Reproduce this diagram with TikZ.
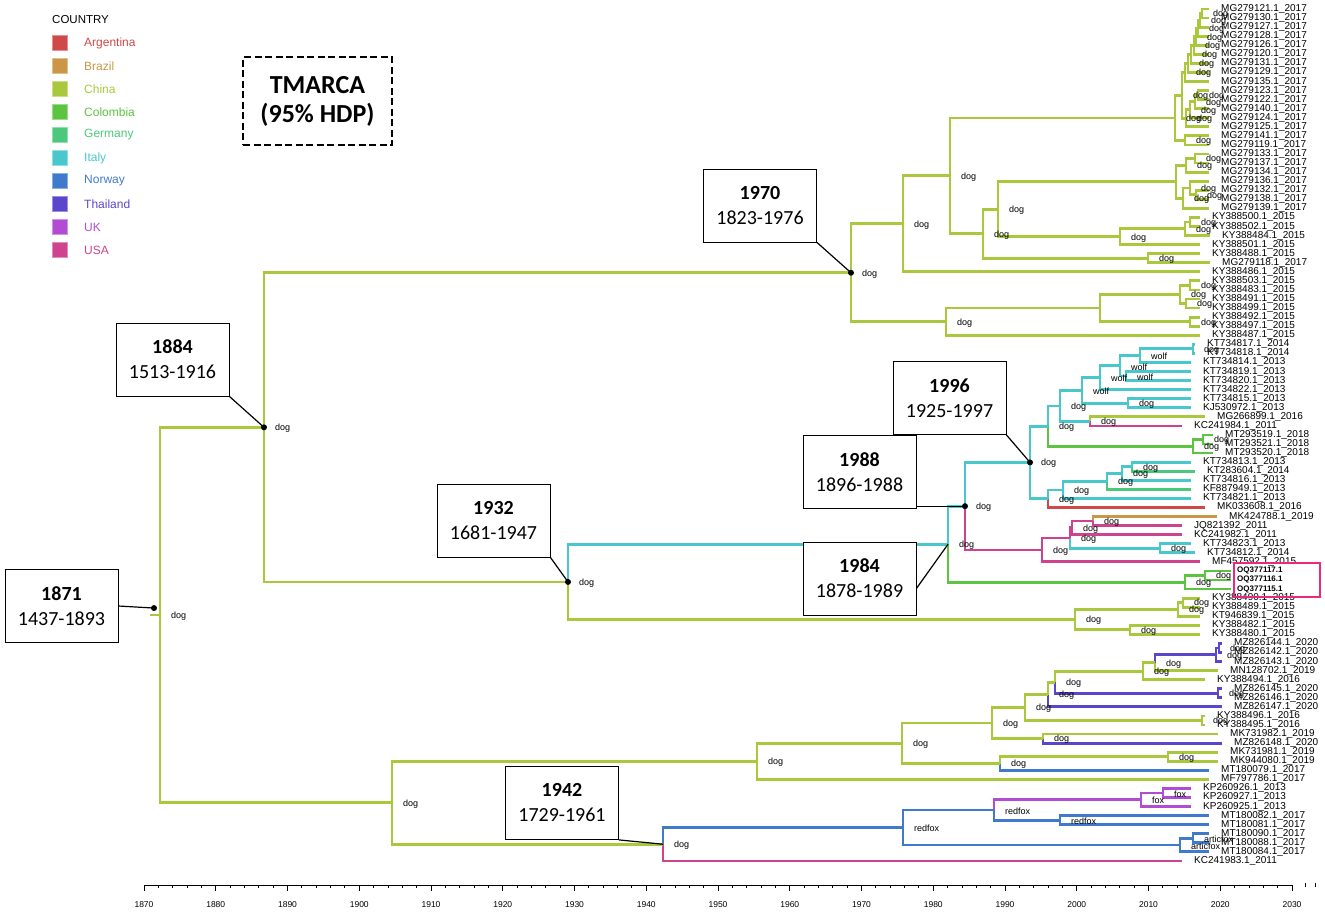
\documentclass[tikz,border=0pt]{standalone}
\usepackage{fontspec}
\setmainfont{Liberation Sans}
\newfontfamily\boxfont{Carlito}
\usetikzlibrary{calc}

% country colours
\definecolor{argentina}{RGB}{208,72,72}
\definecolor{brazil}{RGB}{204,150,72}
\definecolor{china}{RGB}{170,200,60}
\definecolor{colombia}{RGB}{92,196,64}
\definecolor{germany}{RGB}{76,200,124}
\definecolor{italy}{RGB}{72,200,204}
\definecolor{norway}{RGB}{64,122,204}
\definecolor{thailand}{RGB}{90,70,204}
\definecolor{uk}{RGB}{178,76,210}
\definecolor{usa}{RGB}{206,66,142}
\definecolor{oqpink}{RGB}{236,40,124}

\tikzset{%
	% Specifications for style of branches and labels:
	branch/.style = {line width=2.8pt, line join=miter},
	tiplabel/.style = {anchor=west, inner sep=0pt, xshift=12pt,
		font=\fontsize{10}{10}\selectfont},
	oqlabel/.style = {anchor=west, inner sep=0pt, xshift=6pt,
		font=\bfseries\fontsize{8}{8}\selectfont},
	hostlabel/.style = {anchor=west, inner sep=0pt, xshift=11pt, yshift=-1pt,
		font=\fontsize{9}{9}\selectfont},
	agebox/.style = {rectangle, draw=black, line width=0.8pt, fill=white,
		minimum width=113pt, minimum height=73pt, align=center,
		font=\boxfont\fontsize{20}{25}\selectfont},
	tmrcabox/.style = {rectangle, draw=black, line width=2.2pt,
		dash pattern=on 7pt off 3.5pt, minimum width=149pt, minimum height=88pt,
		align=center, font=\boxfont\bfseries\fontsize{26}{29}\selectfont},
	pointer/.style = {draw=black, line width=1.2pt},
	dot/.style = {fill=black},
	oqframe/.style = {rectangle, draw=oqpink, line width=1.6pt,
		minimum width=86pt, minimum height=34pt},
	legsq/.style = {rectangle, minimum size=15pt, inner sep=0pt},
	legtext/.style = {anchor=west, inner sep=0pt, font=\fontsize{12}{12}\selectfont},
	axisline/.style = {draw=black, line width=0.9pt},
	axislabel/.style = {font=\fontsize{8.5}{8.5}\selectfont},
}

% tip: [style]{index}{x of tip}{name}
\newcommand{\tip}[4][tiplabel]{%
	\coordinate (t#2) at (#3,{9+(#2-1)*9.063});
	\node[#1] (l#2) at (t#2) {#4};}
% clade: {name}{x}{child 1}{colour 1}{child 2}{colour 2}{host}
\newcommand{\clade}[7]{%
	\path let \p1 = ($(#3)!0.5!(#5)$) in coordinate (#1) at (#2pt,\y1);
	\draw[branch,#4] (#1) |- (#3);
	\draw[branch,#6] (#1) |- (#5);
	\node[hostlabel] (#1h) at (#1) {#7};}
% legend entry: {name}{y}{colour}{text}
\newcommand{\legentry}[4]{%
	\node[legsq, fill=#3, draw=#3!60] (sq#1) at (60,#2) {};
	\node[legtext, text=#3] (lg#1) at (84,#2) {#4};}

\begin{document}
\begin{tikzpicture}[x=1pt, y=-1pt]
	\useasboundingbox (0,0) rectangle (1325,916);
	
	% Legend
	\node[legtext, font=\fontsize{11.5}{11.5}\selectfont] (legtitle) at (52,20) {COUNTRY};
	\legentry{arg}{43}{argentina}{Argentina}
	\legentry{bra}{66}{brazil}{Brazil}
	\legentry{chi}{89}{china}{China}
	\legentry{col}{112}{colombia}{Colombia}
	\legentry{ger}{135}{germany}{Germany}
	\legentry{ita}{158}{italy}{Italy}
	\legentry{nor}{181}{norway}{Norway}
	\legentry{tha}{204}{thailand}{Thailand}
	\legentry{uk}{227}{uk}{UK}
	\legentry{usa}{250}{usa}{USA}
	
	\node[tmrcabox] (tmrca) at (317.5,101) {TMARCA\\(95\% HDP)};
	
	% Tips
	\tip{1}{1209}{MG279121.1\_2017}
	\tip{2}{1209}{MG279130.1\_2017}
	\tip{3}{1209}{MG279127.1\_2017}
	\tip{4}{1209}{MG279128.1\_2017}
	\tip{5}{1209}{MG279126.1\_2017}
	\tip{6}{1209}{MG279120.1\_2017}
	\tip{7}{1209}{MG279131.1\_2017}
	\tip{8}{1209}{MG279129.1\_2017}
	\tip{9}{1209}{MG279135.1\_2017}
	\tip{10}{1209}{MG279123.1\_2017}
	\tip{11}{1209}{MG279122.1\_2017}
	\tip{12}{1209}{MG279140.1\_2017}
	\tip{13}{1209}{MG279124.1\_2017}
	\tip{14}{1209}{MG279125.1\_2017}
	\tip{15}{1209}{MG279141.1\_2017}
	\tip{16}{1209}{MG279119.1\_2017}
	\tip{17}{1209}{MG279133.1\_2017}
	\tip{18}{1209}{MG279137.1\_2017}
	\tip{19}{1209}{MG279134.1\_2017}
	\tip{20}{1209}{MG279136.1\_2017}
	\tip{21}{1209}{MG279132.1\_2017}
	\tip{22}{1209}{MG279138.1\_2017}
	\tip{23}{1209}{MG279139.1\_2017}
	\tip{24}{1200}{KY388500.1\_2015}
	\tip{25}{1200}{KY388502.1\_2015}
	\tip{26}{1210}{KY388484.1\_2015}
	\tip{27}{1200}{KY388501.1\_2015}
	\tip{28}{1200}{KY388488.1\_2015}
	\tip{29}{1210}{MG279118.1\_2017}
	\tip{30}{1200}{KY388486.1\_2015}
	\tip{31}{1200}{KY388503.1\_2015}
	\tip{32}{1200}{KY388483.1\_2015}
	\tip{33}{1200}{KY388491.1\_2015}
	\tip{34}{1200}{KY388499.1\_2015}
	\tip{35}{1200}{KY388492.1\_2015}
	\tip{36}{1200}{KY388497.1\_2015}
	\tip{37}{1200}{KY388487.1\_2015}
	\tip{38}{1195}{KT734817.1\_2014}
	\tip{39}{1195}{KT734818.1\_2014}
	\tip{40}{1191}{KT734814.1\_2013}
	\tip{41}{1191}{KT734819.1\_2013}
	\tip{42}{1191}{KT734820.1\_2013}
	\tip{43}{1191}{KT734822.1\_2013}
	\tip{44}{1191}{KT734815.1\_2013}
	\tip{45}{1191}{KJ530972.1\_2013}
	\tip{46}{1205}{MG266899.1\_2016}
	\tip{47}{1182}{KC241984.1\_2011}
	\tip{48}{1213}{MT293519.1\_2018}
	\tip{49}{1213}{MT293521.1\_2018}
	\tip{50}{1213}{MT293520.1\_2018}
	\tip{51}{1191}{KT734813.1\_2013}
	\tip{52}{1195}{KT283604.1\_2014}
	\tip{53}{1191}{KT734816.1\_2013}
	\tip{54}{1191}{KF887949.1\_2013}
	\tip{55}{1191}{KT734821.1\_2013}
	\tip{56}{1205}{MK033608.1\_2016}
	\tip{57}{1217}{MK424788.1\_2019}
	\tip{58}{1182}{JQ821392\_2011}
	\tip{59}{1182}{KC241982.1\_2011}
	\tip{60}{1191}{KT734823.1\_2013}
	\tip{61}{1195}{KT734812.1\_2014}
	\tip{62}{1200}{MF457592.1\_2015}
	\tip[oqlabel]{63}{1231}{OQ377117.1}
	\tip[oqlabel]{64}{1231}{OQ377116.1}
	\tip[oqlabel]{65}{1231}{OQ377115.1}
	\tip{66}{1200}{KY388490.1\_2015}
	\tip{67}{1200}{KY388489.1\_2015}
	\tip{68}{1200}{KT946839.1\_2015}
	\tip{69}{1200}{KY388482.1\_2015}
	\tip{70}{1200}{KY388480.1\_2015}
	\tip{71}{1222}{MZ826144.1\_2020}
	\tip{72}{1222}{MZ826142.1\_2020}
	\tip{73}{1222}{MZ826143.1\_2020}
	\tip{74}{1218}{MN128702.1\_2019}
	\tip{75}{1205}{KY388494.1\_2016}
	\tip{76}{1222}{MZ826145.1\_2020}
	\tip{77}{1222}{MZ826146.1\_2020}
	\tip{78}{1222}{MZ826147.1\_2020}
	\tip{79}{1205}{KY388496.1\_2016}
	\tip{80}{1205}{KY388495.1\_2016}
	\tip{81}{1218}{MK731982.1\_2019}
	\tip{82}{1222}{MZ826148.1\_2020}
	\tip{83}{1218}{MK731981.1\_2019}
	\tip{84}{1218}{MK944080.1\_2019}
	\tip{85}{1209}{MT180079.1\_2017}
	\tip{86}{1209}{MF797786.1\_2017}
	\tip{87}{1191}{KP260926.1\_2013}
	\tip{88}{1191}{KP260927.1\_2013}
	\tip{89}{1191}{KP260925.1\_2013}
	\tip{90}{1209}{MT180082.1\_2017}
	\tip{91}{1209}{MT180081.1\_2017}
	\tip{92}{1209}{MT180090.1\_2017}
	\tip{93}{1209}{MT180088.1\_2017}
	\tip{94}{1209}{MT180084.1\_2017}
	\tip{95}{1182}{KC241983.1\_2011}
	
	\node[oqframe] (oqbox) at (1277,580) {};
	
	% China clade (MG279...)
	\clade{c1}{1202}{t1}{china}{t2}{china}{dog}
	\clade{c2}{1200}{c1}{china}{t3}{china}{dog}
	\clade{c3}{1198}{c2}{china}{t4}{china}{dog}
	\clade{c4}{1196}{c3}{china}{t5}{china}{dog}
	\clade{c5}{1194}{c4}{china}{t6}{china}{dog}
	\clade{c6}{1191}{c5}{china}{t7}{china}{dog}
	\clade{c7}{1188}{c6}{china}{t8}{china}{dog}
	\clade{c8}{1185}{c7}{china}{t9}{china}{dog}
	\clade{s1}{1198}{t10}{china}{t11}{china}{dog}
	\clade{s2}{1195}{s1}{china}{t12}{china}{dog}
	\clade{s3}{1190}{s2}{china}{t13}{china}{dog}
	\clade{s4}{1186}{s3}{china}{t14}{china}{dog}
	\clade{aone}{1182}{c8}{china}{s4}{china}{dog}
	\clade{atwo}{1185}{t15}{china}{t16}{china}{dog}
	\clade{aroot}{1175}{aone}{china}{atwo}{china}{dog}
	
	\clade{b11}{1195}{t17}{china}{t18}{china}{dog}
	\clade{b1}{1186}{b11}{china}{t19}{china}{dog}
	\clade{b21}{1196}{t21}{china}{t22}{china}{dog}
	\clade{b22}{1190}{t20}{china}{b21}{china}{dog}
	\clade{b2}{1183}{b22}{china}{t23}{china}{dog}
	\clade{broot}{1176}{b1}{china}{b2}{china}{}
	
	\clade{k1}{1190}{t24}{china}{t25}{china}{dog}
	\clade{k2}{1185}{k1}{china}{t26}{china}{dog}
	\clade{n1120}{1120}{k2}{china}{t27}{china}{dog}
	\clade{n1148}{1148}{t28}{china}{t29}{china}{dog}
	\clade{n998}{998}{broot}{china}{n1120}{china}{dog}
	\clade{n983}{983}{n998}{china}{n1148}{china}{dog}
	\clade{n950}{950}{aroot}{china}{n983}{china}{dog}
	\clade{n903}{903}{n950}{china}{t30}{china}{dog}
	
	\clade{r1}{1190}{t31}{china}{t32}{china}{dog}
	\clade{r2}{1186}{t33}{china}{t34}{china}{dog}
	\clade{r3}{1180}{r1}{china}{r2}{china}{dog}
	\clade{r4}{1190}{t35}{china}{t36}{china}{dog}
	\clade{n1100}{1100}{r3}{china}{r4}{china}{}
	\clade{n946}{946}{n1100}{china}{t37}{china}{dog}
	\clade{n1970}{851}{n903}{china}{n946}{china}{dog}
	
	% Italy clade
	\clade{w1}{1193}{t38}{italy}{t39}{italy}{dog}
	\clade{w2}{1140}{w1}{italy}{t40}{italy}{wolf}
	\clade{w23}{1126}{t41}{italy}{t42}{italy}{wolf}
	\clade{w3}{1120}{w2}{italy}{w23}{italy}{wolf}
	\clade{w4}{1100}{w3}{italy}{t43}{italy}{wolf}
	\clade{v1}{1128}{t44}{italy}{t45}{italy}{dog}
	\clade{n1080}{1082}{w4}{italy}{v1}{italy}{wolf}
	\clade{n1090}{1090}{t46}{china}{t47}{usa}{dog}
	\clade{n1060}{1060}{n1080}{italy}{n1090}{italy}{dog}
	\clade{mt1}{1203}{t48}{colombia}{t49}{colombia}{dog}
	\clade{mt2}{1193}{mt1}{colombia}{t50}{colombia}{dog}
	\clade{n1048u}{1048}{n1060}{italy}{mt2}{colombia}{dog}
	\clade{q1}{1132}{t51}{italy}{t52}{germany}{dog}
	\clade{q2}{1122}{q1}{italy}{t53}{italy}{dog}
	\clade{q3}{1107}{q2}{italy}{t54}{germany}{dog}
	\clade{q4}{1063}{q3}{italy}{t55}{italy}{dog}
	\clade{q5}{1048}{q4}{italy}{t56}{argentina}{dog}
	\clade{n1996}{1030}{n1048u}{italy}{q5}{italy}{dog}
	\clade{m1}{1093}{t57}{brazil}{t58}{usa}{dog}
	\clade{m2}{1072}{m1}{usa}{t59}{usa}{dog}
	\clade{mc}{1160}{t60}{italy}{t61}{italy}{dog}
	\clade{m3}{1070}{m2}{usa}{mc}{italy}{dog}
	\clade{m4}{1042}{m3}{usa}{t62}{usa}{dog}
	\clade{n1988}{965}{n1996}{italy}{m4}{usa}{dog}
	\clade{oq1}{1205}{t63}{colombia}{t64}{colombia}{dog}
	\clade{oq2}{1185}{oq1}{colombia}{t65}{colombia}{dog}
	\clade{n1984}{948}{n1988}{italy}{oq2}{colombia}{dog}
	\clade{g1}{1183}{t66}{china}{t67}{china}{dog}
	\clade{g2}{1178}{g1}{china}{t68}{china}{dog}
	\clade{g3}{1130}{t69}{china}{t70}{china}{dog}
	\clade{g4}{1075}{g2}{china}{g3}{china}{dog}
	\clade{n1932}{568}{n1984}{italy}{g4}{china}{dog}
	\clade{n1884}{264}{n1970}{china}{n1932}{china}{dog}
	
	% Lower clade
	\clade{u1}{1219}{t71}{thailand}{t72}{thailand}{dog}
	\clade{u2}{1216}{u1}{thailand}{t73}{thailand}{dog}
	\clade{n1155}{1155}{u2}{thailand}{t74}{china}{dog}
	\clade{n1143}{1143}{n1155}{china}{t75}{china}{dog}
	\clade{u3}{1218}{t76}{thailand}{t77}{thailand}{dog}
	\clade{n1055}{1055}{n1143}{china}{u3}{thailand}{dog}
	\clade{n1048l}{1048}{n1055}{china}{t78}{thailand}{dog}
	\clade{h1}{1202}{t79}{china}{t80}{china}{dog}
	\clade{n1025}{1025}{n1048l}{china}{h1}{china}{dog}
	\clade{n1043}{1043}{t81}{china}{t82}{thailand}{dog}
	\clade{n992}{992}{n1025}{china}{n1043}{china}{dog}
	\clade{h2}{1168}{t83}{china}{t84}{china}{dog}
	\clade{n1000}{1000}{h2}{china}{t85}{norway}{dog}
	\clade{n902}{902}{n992}{china}{n1000}{china}{dog}
	\clade{n757}{757}{n902}{china}{t86}{china}{dog}
	\clade{f1}{1163}{t87}{uk}{t88}{uk}{fox}
	\clade{f2}{1141}{f1}{uk}{t89}{uk}{fox}
	\clade{n1060r}{1060}{t90}{norway}{t91}{norway}{redfox}
	\clade{n994}{994}{f2}{uk}{n1060r}{norway}{redfox}
	\clade{a1}{1193}{t92}{norway}{t93}{norway}{articfox}
	\clade{a2}{1180}{a1}{norway}{t94}{norway}{articfox}
	\clade{n903r}{903}{n994}{norway}{a2}{norway}{redfox}
	\clade{n1942}{663}{n903r}{norway}{t95}{usa}{dog}
	\clade{n392}{392}{n757}{china}{n1942}{china}{dog}
	\clade{root}{160}{n1884}{china}{n392}{china}{dog}
	\coordinate (rootstub) at ($(root)+(-10,0)$);
	\draw[branch,china] (rootstub) -- (root);
	
	% Age boxes and pointers
	\coordinate (d1871) at ($(root)+(-6,-7)$);
	\node[agebox] (b1871) at (61.5,606) {\textbf{1871}\\1437-1893};
	\node[agebox] (b1884) at (172.5,359.5) {\textbf{1884}\\1513-1916};
	\node[agebox] (b1970) at (760,205.5) {\textbf{1970}\\1823-1976};
	\node[agebox] (b1932) at (493.5,520.5) {\textbf{1932}\\1681-1947};
	\node[agebox] (b1996) at (949.5,398) {\textbf{1996}\\1925-1997};
	\node[agebox] (b1988) at (859.5,472) {\textbf{1988}\\1896-1988};
	\node[agebox] (b1984) at (859.5,578.5) {\textbf{1984}\\1878-1989};
	\node[agebox] (b1942) at (562,803) {\textbf{1942}\\1729-1961};
	
	\draw[pointer] (b1871.east) -- (d1871);
	\draw[pointer] (b1884.south east) -- (n1884);
	\draw[pointer] (b1970.south east) -- (n1970);
	\draw[pointer] (b1932.south east) -- (n1932);
	\draw[pointer] (b1996.south east) -- (n1996);
	\draw[pointer] (b1988.east |- n1988) -- (n1988);
	\draw[pointer] ([yshift=-10pt]b1984.east) -- (n1984);
	\draw[pointer] (b1942.south east) -- (n1942);
	\fill[dot] (d1871) circle (3pt);
	\fill[dot] (n1884) circle (3pt);
	\fill[dot] (n1970) circle (3pt);
	\fill[dot] (n1932) circle (3pt);
	\fill[dot] (n1996) circle (3pt);
	\fill[dot] (n1988) circle (3pt);
	
	% Time axis
	\draw[axisline] (144,885) -- (1292,885);
	\foreach \yr in {1870,1872,...,2030}
		\draw[axisline] ({144+(\yr-1870)*7.175},885) -- ++(0,3);
	\foreach \yr in {1870,1880,...,2030} {
		\draw[axisline] ({144+(\yr-1870)*7.175},885) -- ++(0,6);
		\node[axislabel] (yr\yr) at ({144+(\yr-1870)*7.175},905) {\yr};
	}
	\draw[axisline] (1305,883) -- ++(0,4);
	\draw[axisline] (1315,883) -- ++(0,4);
	
\end{tikzpicture}
\end{document}
